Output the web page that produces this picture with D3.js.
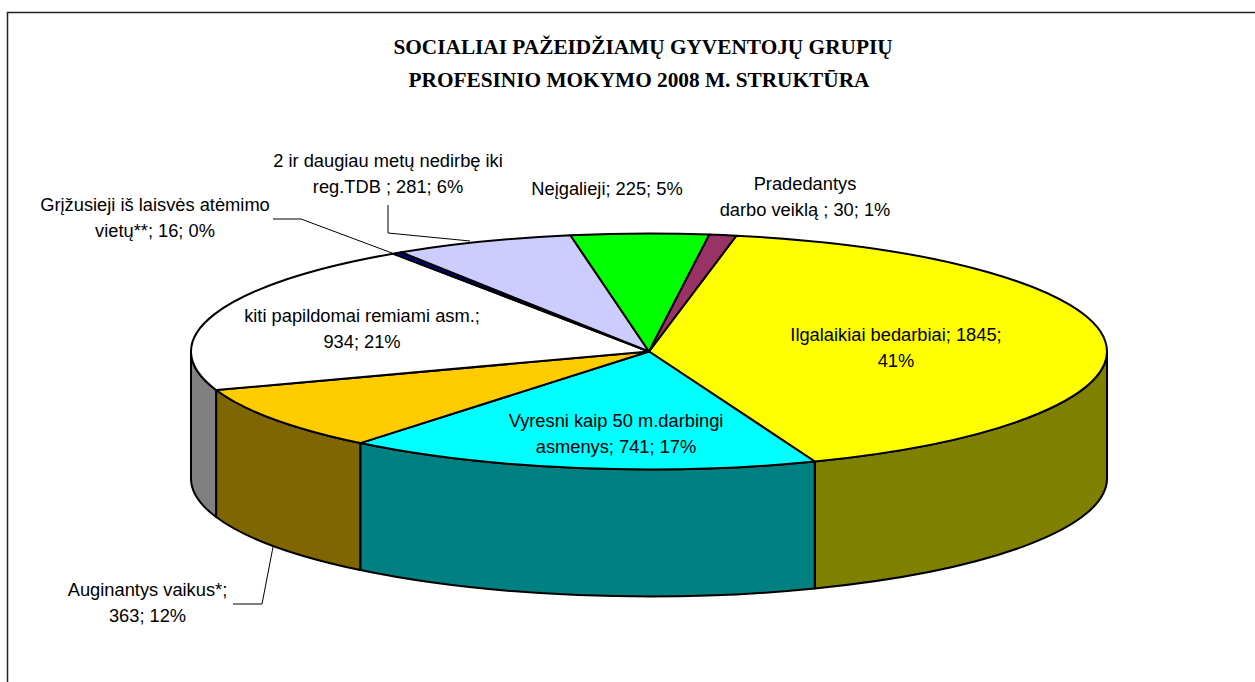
<!DOCTYPE html>
<html><head><meta charset="utf-8">
<style>html,body{margin:0;padding:0;background:#fff;overflow:hidden}svg{display:block}</style>
<script src="https://cdn.jsdelivr.net/npm/d3@7/dist/d3.min.js"></script></head>
<body><svg id="c" width="1255" height="682"></svg>
<script>
const categories = ["Ilgalaikiai bedarbiai","Vyresni kaip 50 m.darbingi asmenys","Auginantys vaikus*","kiti papildomai remiami asm.","Grįžusieji iš laisvės atėmimo vietų**","2 ir daugiau metų nedirbę iki reg.TDB ","Neįgalieji","Pradedantys darbo veiklą "];
const values = [1845,741,363,934,16,281,225,30];
const percents = ["41%","17%","12%","21%","0%","6%","5%","1%"];
const wedgeShares = [41.05,16.75,8.85,20.85,0.35,6.35,4.85,0.95];
const topColors = ["#ffff00","#00ffff","#ffcc00","#ffffff","#000080","#ccccff","#00ff00","#993366"];
const sideColors = ["#808000","#008080","#806600","#808080","#000040","#666680","#008000","#4d1a33"];
const titleLines = ["SOCIALIAI PAŽEIDŽIAMŲ GYVENTOJŲ GRUPIŲ","PROFESINIO MOKYMO 2008 M. STRUKTŪRA"];
const wrapWords = [3,4,2,4,4,6,99,1];
const labelAnchors = [[896,341],[616,427],[147.5,596],[362,322],[155,211],[388,167],[607,195],[805,190]];
const leaderLines = [null,null,[[233,604],[262,604],[273,547]],null,[[273,219],[301,219],[392,253]],[[388,205],[388,233],[470,241]],null,null];

const W=1255,H=682,cx=649,cy=351.5,rx=458,ry=118,depth=127;
const svg=d3.select("#c");
svg.append("path").attr("d",`M7.5,${H+5}V12.5H${W+5}`).attr("fill","none").attr("stroke","#222").attr("stroke-width",1.5);

const deg=d3.scaleLinear().domain([0,360]).range([0,2*Math.PI]);
const pie=d3.pie().sort(null).value(d=>d).startAngle(deg(11)).endAngle(deg(371));
const arcs=pie(wedgeShares);
const px=a=>cx+rx*Math.sin(a), py=a=>cy-ry*Math.cos(a);
const g=svg.append("g").attr("stroke","#000").attr("stroke-width",2).attr("stroke-linejoin","round");

// side wall: each slice clipped to the visible front half of the rim
arcs.forEach((d,i)=>{
  const a0=Math.max(d.startAngle,Math.PI/2), a1=Math.min(d.endAngle,3*Math.PI/2);
  if(a1<=a0) return;
  const s=`M${px(a0)},${py(a0)}A${rx},${ry} 0 0 1 ${px(a1)},${py(a1)}L${px(a1)},${py(a1)+depth}A${rx},${ry} 0 0 0 ${px(a0)},${py(a0)+depth}Z`;
  g.append("path").attr("d",s).attr("fill",sideColors[i]);
});
// top face
arcs.forEach((d,i)=>{
  const big=d.endAngle-d.startAngle>Math.PI?1:0;
  g.append("path").attr("d",`M${cx},${cy}L${px(d.startAngle)},${py(d.startAngle)}A${rx},${ry} 0 ${big} 1 ${px(d.endAngle)},${py(d.endAngle)}Z`).attr("fill",topColors[i]);
});

// leader lines
const line=d3.line();
leaderLines.forEach(l=>{ if(l) svg.append("path").attr("d",line(l)).attr("fill","none").attr("stroke","#000").attr("stroke-width",1); });

// labels: "name; value; percent", broken after a set number of words
categories.forEach((c,i)=>{
  const words=`${c}; ${values[i]}; ${percents[i]}`.replace("  "," ").split(" ");
  const ls=[words.slice(0,wrapWords[i]).join(" "),words.slice(wrapWords[i]).join(" ")].filter(s=>s);
  const t=svg.append("text").attr("text-anchor","middle").attr("font-family","'Liberation Sans',Arial,sans-serif").attr("font-size",18.3).attr("fill","#000");
  ls.forEach((s,j)=>t.append("tspan").attr("x",labelAnchors[i][0]).attr("y",labelAnchors[i][1]+j*26).text(s));
});
// title
titleLines.forEach((s,j)=>svg.append("text").attr("x",[643,639][j]).attr("y",[54,87][j]).attr("text-anchor","middle")
  .attr("font-family","'Liberation Serif','Times New Roman',serif").attr("font-weight","bold").attr("font-size",21.3).attr("fill","#000").text(s));
</script></body></html>
